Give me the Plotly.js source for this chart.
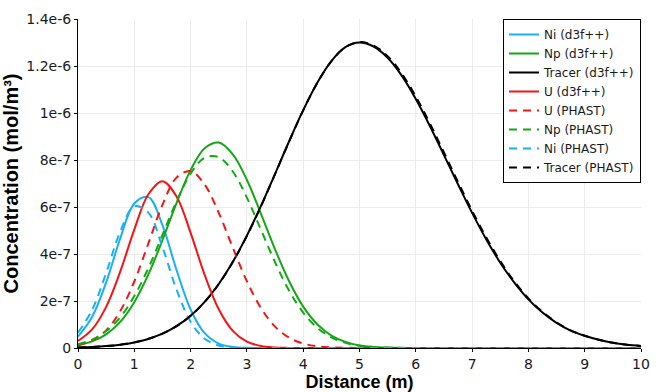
<!DOCTYPE html>
<html>
<head>
<meta charset="utf-8">
<script src="https://cdn.plot.ly/plotly-3.0.1.min.js"></script>
<style>html,body{margin:0;padding:0;background:#fff;}#chart{width:662px;height:392px;}</style>
</head>
<body>
<div id="chart"></div>
<script>
// Distance grid (m)
const distance = [0,0.25,0.5,0.75,1,1.25,1.5,1.75,2,2.25,2.5,2.75,3,3.25,3.5,3.75,4,4.25,4.5,4.75,5,
  5.25,5.5,5.75,6,6.25,6.5,6.75,7,7.25,7.5,7.75,8,8.25,8.5,8.75,9,9.25,9.5,9.75,10];

// Concentrations, in units of 1e-7 mol/m3
const niD3f = [0.49,1.32,2.79,4.66,6.15,6.42,5.23,3.32,1.64,0.63,0.19,0.044,0.008,0.001,
  0,0,0,0,0,0,0,0,0,0,0,0,0,0,0,0,0,0,0,0,0,0,0,0,0,0,0];
const npD3f = [0.12,0.28,0.58,1.11,1.95,3.13,4.59,6.17,7.57,8.50,8.74,8.24,7.15,5.71,4.20,2.84,1.76,1.01,0.53,0.26,0.11,
  0.047,0.018,0.006,0.002,0,0,0,0,0,0,0,0,0,0,0,0,0,0,0,0];
const tracerD3f = [0.025,0.046,0.082,0.142,0.238,0.386,0.608,0.927,1.37,1.963,2.725,3.666,4.782,6.045,7.407,8.797,10.12,11.29,12.21,12.80,13.0,
  12.83,12.35,11.59,10.60,9.45,8.21,6.96,5.75,4.63,3.63,2.78,2.07,1.51,1.07,0.74,0.52,0.35,0.22,0.14,0.09];
const uD3f = [0.30,0.79,1.75,3.25,5.04,6.54,7.10,6.45,4.90,3.11,1.65,0.73,0.27,0.085,0.022,0.005,0.001,
  0,0,0,0,0,0,0,0,0,0,0,0,0,0,0,0,0,0,0,0,0,0,0,0];
const uPhast = [0.12,0.32,0.75,1.57,2.83,4.45,6.09,7.25,7.53,6.95,5.75,4.27,2.84,1.70,0.91,0.44,0.19,0.073,0.025,0.008,0.002,
  0,0,0,0,0,0,0,0,0,0,0,0,0,0,0,0,0,0,0,0];
const npPhast = [0.16,0.36,0.72,1.31,2.21,3.40,4.81,6.24,7.42,8.10,8.12,7.51,6.40,5.03,3.65,2.44,1.51,0.86,0.45,0.22,0.098,
  0.040,0.015,0.005,0.002,0,0,0,0,0,0,0,0,0,0,0,0,0,0,0,0];
const niPhast = [0.65,1.62,3.19,4.95,6.03,5.76,4.29,2.49,1.12,0.39,0.11,0.023,0.004,0.001,
  0,0,0,0,0,0,0,0,0,0,0,0,0,0,0,0,0,0,0,0,0,0,0,0,0,0,0];
const tracerPhast = [0.02,0.04,0.08,0.14,0.24,0.39,0.61,0.93,1.37,1.96,2.72,3.66,4.77,6.03,7.40,8.79,10.11,11.28,12.20,12.80,13.02,
  12.87,12.42,11.68,10.70,9.56,8.32,7.06,5.84,4.71,3.70,2.83,2.11,1.54,1.09,0.75,0.52,0.35,0.22,0.14,0.09];

const yTickVals = [0,2e-7,4e-7,6e-7,8e-7,1e-6,1.2e-6,1.4e-6];
const yTickText = ["0","2e-7","4e-7","6e-7","8e-7","1e-6","1.2e-6","1.4e-6"];
const xTickVals = [0,1,2,3,4,5,6,7,8,9,10];

const BLUE = "#18b0f5", GREEN = "#14a814", RED = "#f51414", BLACK = "#000000";
const toSI = a => a.map(v => v * 1e-7);

function tr(name, y, color, dashed) {
  return {
    type: "scatter", mode: "lines", name: name,
    x: distance, y: toSI(y),
    line: {color: color, width: 2, shape: "spline", smoothing: 1, dash: dashed ? "8px,6px" : "solid"}
  };
}

const data = [
  tr("Ni (d3f++)", niD3f, BLUE, false),
  tr("Np (d3f++)", npD3f, GREEN, false),
  tr("Tracer (d3f++)", tracerD3f, BLACK, false),
  tr("U (d3f++)", uD3f, RED, false),
  tr("U (PHAST)", uPhast, RED, true),
  tr("Np (PHAST)", npPhast, GREEN, true),
  tr("Ni (PHAST)", niPhast, BLUE, true),
  tr("Tracer (PHAST)", tracerPhast, BLACK, true)
];

const FONT = "DejaVu Sans, Liberation Sans, Arial, sans-serif";
const TFONT = "Liberation Sans, Arial, sans-serif";
const layout = {
  width: 662, height: 392,
  margin: {l: 78, r: 21, t: 19, b: 44, pad: 0},
  paper_bgcolor: "#ffffff", plot_bgcolor: "#ffffff",
  font: {family: FONT, color: "#1a1a1a", size: 14},
  showlegend: true,
  legend: {
    x: 1, xanchor: "right", y: 1, yanchor: "top",
    bgcolor: "#ffffff", bordercolor: "#000000", borderwidth: 1,
    font: {family: FONT, size: 12, color: "#1a1a1a"},
    itemwidth: 30, tracegroupgap: 0
  },
  xaxis: {
    range: [0, 10], tickvals: xTickVals, ticktext: xTickVals.map(String),
    ticks: "outside", ticklen: 3, tickcolor: "#000", tickwidth: 1,
    showline: true, linecolor: "#000", linewidth: 1, mirror: false,
    showgrid: true, gridcolor: "#ececec", gridwidth: 1, zeroline: false,
    tickfont: {family: FONT, size: 14, color: "#1a1a1a"},
    title: {text: "<b>Distance (m)</b>", font: {family: TFONT, size: 18, color: "#000"}, standoff: 3}
  },
  yaxis: {
    range: [0, 1.4e-6], tickvals: yTickVals, ticktext: yTickText,
    ticks: "outside", ticklen: 3, tickcolor: "#000", tickwidth: 1,
    showline: true, linecolor: "#000", linewidth: 1, mirror: false,
    showgrid: true, gridcolor: "#ececec", gridwidth: 1, zeroline: false,
    tickfont: {family: FONT, size: 14, color: "#1a1a1a"},
    title: {text: "<b>Concentration (mol/m³)</b>", font: {family: TFONT, size: 20, color: "#000"}, standoff: 6}
  }
};

Plotly.newPlot("chart", data, layout, {displayModeBar: false, staticPlot: true});
</script>
</body>
</html>
